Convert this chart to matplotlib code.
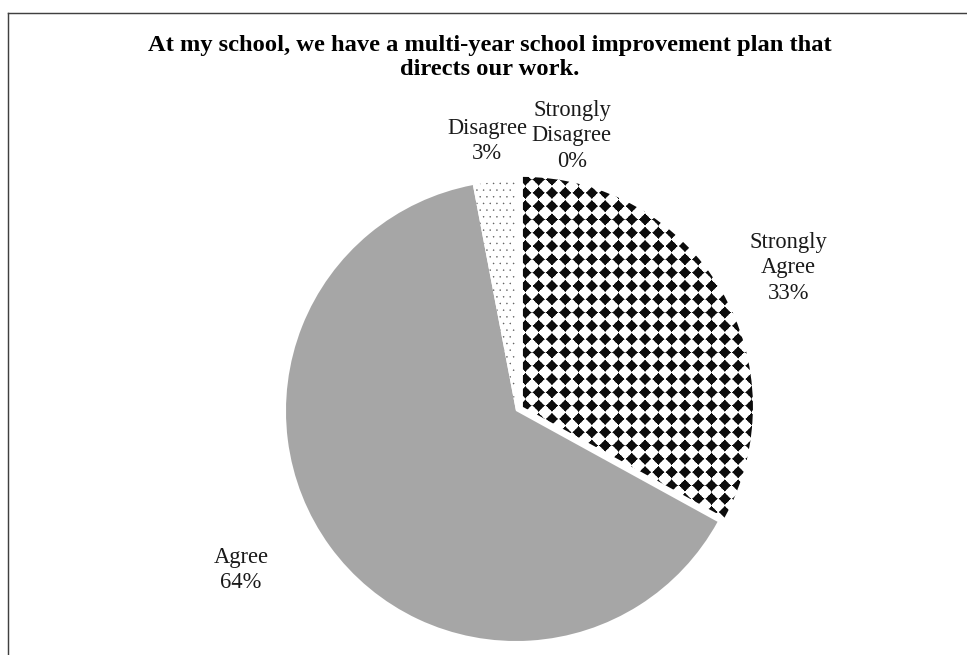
import numpy as np
import matplotlib.pyplot as plt
from matplotlib.lines import Line2D

plt.rcParams["font.family"] = "Liberation Serif"

title = "At my school, we have a multi-year school improvement plan that\ndirects our work."
categories = ["Strongly\nAgree", "Agree", "Disagree", "Strongly\nDisagree"]
percents = [33, 64, 3, 0]

faces = ["white", "#a6a6a6", "white", "white"]
patterns = ["diamond", None, "dots", None]
explode = [0.035, 0, 0, 0]
# where each label sits, in units of the pie radius
label_pos = [(1.183, 0.622), (-1.196, -0.691), (-0.126, 1.174), (0.243, 1.196)]

W, H, DPI = 967, 655, 80
fig = plt.figure(figsize=(W / DPI, H / DPI), dpi=DPI)
ax = fig.add_axes([0, 0, 1, 1])

# pie centre in pixels and radius
cx, cy, R = 516, 411, 230
xlim = (-cx / R, (W - cx) / R)
ylim = (-(H - cy) / R, cy / R)

wedges, _ = ax.pie(percents, explode=explode, startangle=90, counterclock=False,
                   colors=faces, radius=1, center=(0, 0), frame=True,
                   wedgeprops=dict(linewidth=0))
ax.set_xlim(*xlim)
ax.set_ylim(*ylim)
ax.set_aspect("auto")
ax.axis("off")


def fill_pattern(kind):
    # pixel-aligned texture covering the whole axes
    px, py = np.meshgrid(np.arange(W) + 0.5, np.arange(H) + 0.5)
    img = np.zeros((H, W, 4))
    if kind == "diamond":
        # fat diamonds with pointed tips
        P = 13.3
        dx = np.abs((px % P) - P / 2)
        dy = np.abs((py % P) - P / 2)
        star = (dx ** 0.9 + dy ** 0.9) ** (1 / 0.9)
        blob = np.hypot(dx, dy)
        a = np.maximum(np.clip(6.3 + 0.5 - star, 0, 1), np.clip(4.3 + 0.5 - blob, 0, 1))
        img[..., :3] = 0.05
        img[..., 3] = a
    else:
        P, r = 6.67, 0.75
        row = np.floor(py / P)
        dx = np.abs(((px + (row % 2) * P / 2) % P) - P / 2)
        dy = np.abs((py % P) - P / 2)
        dist = np.hypot(dx, dy)
        img[..., :3] = 0.4
        img[..., 3] = np.clip(r + 0.5 - dist, 0, 1)
    return img


for w, kind in zip(wedges, patterns):
    if kind:
        im = ax.imshow(fill_pattern(kind), extent=(*xlim, *ylim), origin="upper",
                       interpolation="nearest", zorder=3, aspect="auto")
        im.set_clip_path(w)

ax.set_xlim(*xlim)
ax.set_ylim(*ylim)

for cat, p, (lx, ly) in zip(categories, percents, label_pos):
    ax.text(lx, ly, f"{cat}\n{p}%", ha="center", va="center",
            fontsize=20.3, color="#1a1a1a", linespacing=1.27)

fig.text(490 / W, 1 - 57.5 / H, title, ha="center", va="center",
         fontsize=22, fontweight="bold", color="black", linespacing=1.22)

# chart area frame running off the right and bottom edges
fig.add_artist(Line2D([8 / W, 8 / W], [0, 1 - 13 / H], transform=fig.transFigure,
                      color="#404040", lw=1.3))
fig.add_artist(Line2D([8 / W, 1], [1 - 13 / H, 1 - 13 / H], transform=fig.transFigure,
                      color="#404040", lw=1.3))

fig.savefig("out.png", dpi=DPI)
